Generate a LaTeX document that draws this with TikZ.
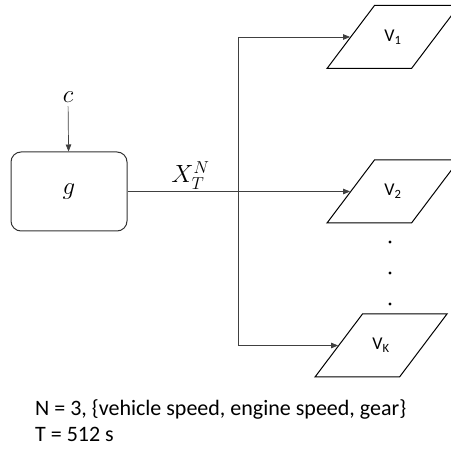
\documentclass[tikz,border=0pt]{standalone}
\usepackage{fontspec}
\setmainfont{Carlito}
\usetikzlibrary{arrows.meta,positioning,shapes.geometric}

\begin{document}
\begin{tikzpicture}[x=1pt,y=-1pt,
    outbox/.style={draw, line width=1pt, trapezium, trapezium left angle=53,
      trapezium right angle=127, trapezium stretches body,
      text height=12pt, text depth=3pt, inner xsep=0pt, inner ysep=24pt,
      minimum width=132pt, font=\fontsize{18}{21}\selectfont},
    link/.style={draw=black!75, line width=0.7pt},
    tip/.style={-{Triangle[length=7pt,width=5.5pt]}},
    mathlab/.style={font=\fontsize{24}{28}\selectfont},
    textlab/.style={anchor=base west, inner sep=0pt, font=\fontsize{22}{26}\selectfont}]
  \useasboundingbox (0,0) rectangle (451,449);

  % generator block and its condition
  \node[draw=black!80, line width=1pt, rounded corners=10pt,
    minimum width=116pt, minimum height=79pt, mathlab] (g) at (69,191.5) {$g$};
  \node[mathlab] (c) at (68,97.5) {$c$};
  \draw[link,tip] (c) -- (g);

  % split point of the generated series
  \coordinate (jn) at (238,191.5);
  \draw[link] (g.east) -- node[mathlab, above, inner sep=2pt, pos=0.57] (xlab) {$X_T^N$} (jn);

  % outputs
  \node[outbox] (v1) at (393,37) {V\textsubscript{1}};
  \node[outbox] (v2) at (393,191.5) {V\textsubscript{2}};
  \node[outbox] (vK) at (381,345.5) {V\textsubscript{K}};

  \draw[link,tip] (jn) |- (v1.west);
  \draw[link,tip] (jn) -- (v2.west);
  \draw[link,tip] (jn) |- (vK.west);

  % dots between v2 and vK
  \foreach \y in {242,273,304}
    \fill (390,\y) circle (1.6pt);

  % legend
  \node[textlab] (legend1) at (35,416) {N = 3, \{vehicle speed, engine speed, gear\}};
  \node[textlab] (legend2) at (35,442) {T = 512 s};
\end{tikzpicture}
\end{document}
